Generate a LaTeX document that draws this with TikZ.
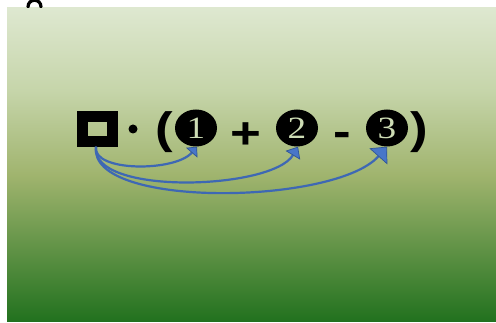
\documentclass[tikz,border=0pt]{standalone}
\usepackage{fontspec}
\usetikzlibrary{arrows.meta,shapes.geometric}
\newfontfamily\opfont{Liberation Sans}
\newfontfamily\digfont{Liberation Serif}
\definecolor{gA}{RGB}{33,113,30}
\definecolor{gB}{RGB}{160,180,110}
\definecolor{gC}{RGB}{198,213,170}
\definecolor{gD}{RGB}{222,232,208}
\definecolor{digitcol}{RGB}{205,220,180}
\definecolor{linkblue}{RGB}{62,104,180}
\definecolor{tipfill}{RGB}{72,118,200}
\definecolor{tipedge}{RGB}{47,85,151}
\pgfdeclareverticalshading{greenfade}{100bp}{color(0bp)=(gA); color(25bp)=(gA); color(48.4bp)=(gB); color(61.9bp)=(gC); color(75bp)=(gD); color(100bp)=(gD)}
\tikzset{
  opsym/.style={anchor=base, inner sep=0pt, font=\opfont\bfseries\fontsize{44}{44}\selectfont},
  numdisc/.style={ellipse, fill=black, minimum width=42pt, minimum height=37pt, inner sep=0pt,
    text=digitcol, font=\digfont\fontsize{31}{31}\selectfont},
  link/.style={draw=linkblue, line width=2.2pt},
}
\begin{document}
\begin{tikzpicture}[x=1pt, y=-1pt]
\useasboundingbox (0,0) rectangle (496,323);
% background panel
\shade[shading=greenfade] (7,8) rectangle (496,322);
% stray glyph fragment at the top edge
\begin{scope}
\clip (0,0) rectangle (60,8);
\draw[line width=3.2pt, line cap=round] (28,7) .. controls (28,-2) and (41,-2) .. (41,7);
\end{scope}
% hollow square
\node[draw=black, line width=11pt, minimum width=30pt, minimum height=24.5pt, inner sep=0pt] (sq) at (97.5,129) {};
% multiplication dot
\node[circle, fill=black, minimum size=9pt, inner sep=0pt] (dot) at (133,129) {};
% parentheses and operators
\node[opsym] (lp) at (164,144) {\scalebox{1.2}[1]{(}};
\node[opsym] (plus) at (246,148.5) {\scalebox{1.2}[1]{+}};
\node[opsym] (minus) at (342,146.5) {\scalebox{1.2}[1]{-}};
\node[opsym] (rp) at (419,144) {\scalebox{1.2}[1]{)}};
% numbered discs
\node[numdisc] (n1) at (196,128) {\scalebox{1.2}[1]{1}};
\node[numdisc] (n2) at (297,128) {\scalebox{1.2}[1]{2}};
\node[numdisc] (n3) at (387,128) {\scalebox{1.2}[1]{3}};
% curved links from the square to each disc
\draw[link, -{Triangle[length=8pt, width=15pt, fill=tipfill, color=tipedge, line width=0.7pt]}]
  ([xshift=-1.5pt]sq.south) .. controls (92,172) and (175,172) .. ([xshift=1pt]n1.south);
\draw[link, -{Triangle[length=10pt, width=17pt, fill=tipfill, color=tipedge, line width=0.7pt]}]
  ([xshift=-1.5pt]sq.south) .. controls (90,196) and (272,190) .. ([xshift=1pt]n2.south);
\draw[link, -{Triangle[length=13pt, width=24pt, fill=tipfill, color=tipedge, line width=0.7pt]}]
  ([xshift=-1.5pt]sq.south) .. controls (88,209) and (335,205) .. (n3.south);
\end{tikzpicture}
\end{document}
